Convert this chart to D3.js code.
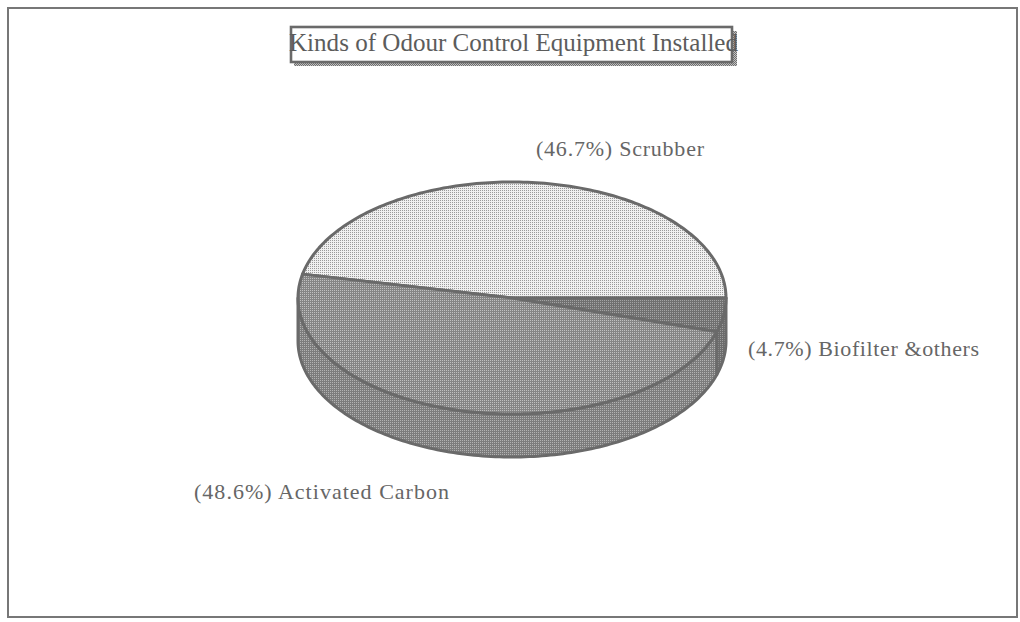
<!DOCTYPE html>
<html>
<head>
<meta charset="utf-8">
<script src="https://cdn.jsdelivr.net/npm/d3@7"></script>
<style>
  html, body { margin: 0; padding: 0; background: #fff; }
  svg { display: block; }
</style>
</head>
<body>
<script>
// Equipment categories and their shares (%)
const categories = ["Scrubber", "Biofilter &others", "Activated Carbon"];
const shares = [46.7, 4.7, 48.6];
const labels = ["(46.7%) Scrubber", "(4.7%) Biofilter &others", "(48.6%) Activated Carbon"];
const title = "Kinds of Odour Control Equipment Installed";

const W = 1020, H = 622;
const svg = d3.select("body").append("svg").attr("width", W).attr("height", H);

// Dithered fills: a 2x2 cell with one off-colour pixel
const defs = svg.append("defs");
function dither(id, base, dot) {
  const p = defs.append("pattern").attr("id", id).attr("patternUnits", "userSpaceOnUse")
    .attr("width", 2).attr("height", 2);
  p.append("rect").attr("width", 2).attr("height", 2).attr("fill", base);
  p.append("rect").attr("x", 0).attr("y", 0).attr("width", 1).attr("height", 1).attr("fill", dot);
  return `url(#${id})`;
}
const topFill = [
  dither("pScrub", "#f0f0f0", "#9a9a9a"),
  dither("pBio", "#707070", "#a4a4a4"),
  dither("pCarbon", "#858585", "#c0c0c0")
];
const sideFill = [
  dither("sScrub", "#cfcfcf", "#8a8a8a"),
  dither("sBio", "#6c6c6c", "#9c9c9c"),
  dither("sCarbon", "#7c7c7c", "#b2b2b2")
];

// Outer frame
svg.append("rect").attr("x", 8).attr("y", 8).attr("width", 1009).attr("height", 609)
  .attr("fill", "none").attr("stroke", "#777").attr("stroke-width", 2);

// Title box with dotted drop shadow
const shadowP = defs.append("pattern").attr("id", "pShadow").attr("patternUnits", "userSpaceOnUse")
  .attr("width", 2).attr("height", 2);
shadowP.append("rect").attr("width", 2).attr("height", 2).attr("fill", "#c4c4c4");
shadowP.append("rect").attr("width", 1).attr("height", 1).attr("fill", "#6e6e6e");
shadowP.append("rect").attr("x", 1).attr("y", 1).attr("width", 1).attr("height", 1).attr("fill", "#6e6e6e");
svg.append("rect").attr("x", 294).attr("y", 31).attr("width", 443).attr("height", 35).attr("fill", "url(#pShadow)");
svg.append("rect").attr("x", 291).attr("y", 27).attr("width", 441).attr("height", 35)
  .attr("fill", "#fff").attr("stroke", "#6a6a6a").attr("stroke-width", 2.6);
svg.append("text").attr("x", 289).attr("y", 51)
  .attr("font-family", "Liberation Serif, Times New Roman, serif").attr("font-size", 26)
  .attr("fill", "#5c5c5c").attr("textLength", 449).attr("lengthAdjust", "spacingAndGlyphs")
  .text(title);

// 3-D pie geometry
const cx = 512, cy = 298, rx = 214, ry = 116, depth = 43;
const total = d3.sum(shares);
const start = Math.PI / 2 - 2 * Math.PI * shares[0] / total;
const pie = d3.pie().sort(null).value(d => d).startAngle(start).endAngle(start + 2 * Math.PI);
const arcs = pie(shares);

const px = a => cx + rx * Math.sin(a);
const py = a => cy - ry * Math.cos(a);
function rimPoints(a0, a1, dy) {
  const n = Math.max(2, Math.ceil(Math.abs(a1 - a0) / 0.02));
  return d3.range(n + 1).map(i => {
    const a = a0 + (a1 - a0) * i / n;
    return [px(a), py(a) + dy];
  });
}
const line = d3.line();

// Side walls: only the front half (angles between 90° and 270°) is visible
const gSide = svg.append("g");
arcs.forEach((d, i) => {
  for (let k = -1; k <= 1; k++) {
    const lo = Math.max(d.startAngle, Math.PI / 2 + k * 2 * Math.PI);
    const hi = Math.min(d.endAngle, 3 * Math.PI / 2 + k * 2 * Math.PI);
    if (hi <= lo) continue;
    const pts = rimPoints(lo, hi, 0).concat(rimPoints(hi, lo, depth));
    gSide.append("path").attr("d", line(pts) + "Z")
      .attr("fill", sideFill[i]).attr("stroke", "#6a6a6a").attr("stroke-width", 3)
      .attr("stroke-linejoin", "round");
  }
});

// Top faces
const gTop = svg.append("g");
arcs.forEach((d, i) => {
  const pts = [[cx, cy]].concat(rimPoints(d.startAngle, d.endAngle, 0));
  gTop.append("path").attr("d", line(pts) + "Z")
    .attr("fill", topFill[i]).attr("stroke", "#6a6a6a").attr("stroke-width", 3)
    .attr("stroke-linejoin", "round");
});

// Slice labels
const labelPos = [
  { x: 536, y: 156, len: 168 },
  { x: 748, y: 356, len: 231 },
  { x: 194, y: 499, len: 255 }
];
svg.append("g").selectAll("text").data(labels).join("text")
  .attr("x", (d, i) => labelPos[i].x).attr("y", (d, i) => labelPos[i].y)
  .attr("textLength", (d, i) => labelPos[i].len).attr("lengthAdjust", "spacing")
  .attr("font-family", "Liberation Serif, Times New Roman, serif").attr("font-size", 22)
  .attr("fill", "#666").text(d => d);
</script>
</body>
</html>
